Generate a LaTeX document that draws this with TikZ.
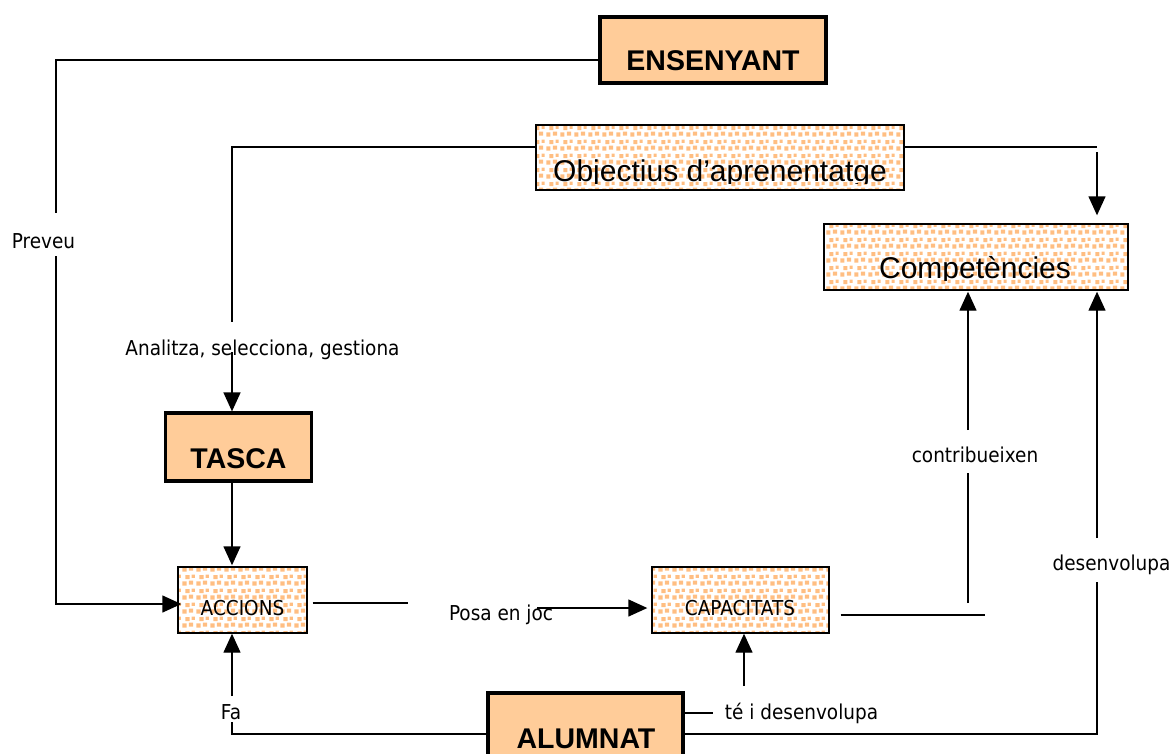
\documentclass[tikz,border=0pt]{standalone}
\usepackage{fontspec}
\setmainfont{Liberation Sans}
\newfontfamily\labfont[FakeStretch=0.9]{DejaVu Sans}
\usetikzlibrary{arrows.meta,patterns}

\definecolor{peach}{RGB}{255,204,153}
\definecolor{dotpeach}{RGB}{255,190,130}

% staggered square dots used as a soft fill
\pgfdeclarepatternformonly{peachdots}{\pgfqpoint{0pt}{0pt}}{\pgfqpoint{14pt}{14pt}}{\pgfqpoint{14pt}{14pt}}{%
  \pgfpathrectangle{\pgfqpoint{0.4pt}{0.4pt}}{\pgfqpoint{4.4pt}{4.4pt}}%
  \pgfpathrectangle{\pgfqpoint{7.4pt}{1.4pt}}{\pgfqpoint{4.4pt}{4.4pt}}%
  \pgfpathrectangle{\pgfqpoint{3.6pt}{7.2pt}}{\pgfqpoint{4.4pt}{4.4pt}}%
  \pgfpathrectangle{\pgfqpoint{10.2pt}{8.6pt}}{\pgfqpoint{3.4pt}{3.4pt}}%
  \pgfusepath{fill}}

\tikzset{
  solidbox/.style={draw, line width=3.2pt, fill=peach, inner sep=0pt},
  dotbox/.style={draw, line width=1.4pt, pattern=peachdots, pattern color=dotpeach, inner sep=0pt},
  boldtext/.style={font=\fontsize{28.5}{30}\selectfont\bfseries, anchor=base, inner sep=0pt},
  bigtext/.style={font=\fontsize{30}{32}\selectfont, anchor=base, inner sep=0pt},
  lab/.style={font=\labfont\fontsize{20.5}{22}\selectfont, anchor=base, inner sep=0pt},
  conn/.style={line width=1.4pt},
  arr/.style={conn, -{Triangle[length=19pt,width=17pt]}},
}

\begin{document}
\begin{tikzpicture}[x=1pt,y=-1pt]
\useasboundingbox (0,0) rectangle (1174,753);

% ---- boxes ----
\node[solidbox, minimum width=226pt, minimum height=66pt] (ens)   at (713,50)    {};
\node[dotbox,   minimum width=368pt, minimum height=65pt] (obj)   at (720,157.5) {};
\node[dotbox,   minimum width=304pt, minimum height=66pt] (comp)  at (976,257)   {};
\node[solidbox, minimum width=146pt, minimum height=68pt] (tasca) at (238.5,447) {};
\node[dotbox,   minimum width=129pt, minimum height=66pt] (acc)   at (242.5,600) {};
\node[dotbox,   minimum width=177pt, minimum height=66pt] (cap)   at (740.5,600) {};
\node[solidbox, minimum width=195pt, minimum height=72pt] (alum)  at (585.5,729) {};

% ---- box texts ----
\node[boldtext] (ensT)   at (713,70)    {ENSENYANT};
\begin{scope}
  \clip (537,126) rectangle (903,183);
  \node[bigtext] (objT) at (720,181) {Objectius d’aprenentatge};
\end{scope}
\begin{scope}
  \clip (825,225) rectangle (1127,280.5);
  \node[bigtext] (compT) at (975,278) {Competències};
\end{scope}
\node[boldtext] (tascaT) at (238.5,468) {TASCA};
\node[lab]      (accT)   at (242.5,615) {ACCIONS};
\node[lab]      (capT)   at (740,615)   {CAPACITATS};
\node[boldtext] (alumT)  at (586,748)   {ALUMNAT};

% ---- connector labels ----
\node[lab] (lPreveu)  at (43.5,248)  {Preveu};
\node[lab] (lAnal)    at (262.5,355) {Analitza, selecciona, gestiona};
\node[lab] (lContr)   at (975,462)   {contribueixen};
\node[lab] (lDesenv)  at (1111.5,570) {desenvolupa};
\node[lab] (lPosa)    at (501,620)   {Posa en joc};
\node[lab] (lFa)      at (231,719)   {Fa};
\node[lab] (lTe)      at (801.5,719) {té i desenvolupa};

% ---- bend and gap points ----
\coordinate (preA) at (56,60);
\coordinate (preB) at (56,213);
\coordinate (preC) at (56,256);
\coordinate (preD) at (56,604);
\coordinate (aA)   at (232,147);
\coordinate (aB)   at (232,322);
\coordinate (aC)   at (232,352);
\coordinate (oA)   at (1097,147);
\coordinate (oB)   at (1097,152);
\coordinate (accR) at (408,603);
\coordinate (pA)   at (537,608);
\coordinate (cA)   at (985,615);
\coordinate (cB)   at (968,603);
\coordinate (cC)   at (968,473);
\coordinate (cD)   at (968,430);
\coordinate (rA)   at (1097,734);
\coordinate (rB)   at (1097,582);
\coordinate (rC)   at (1097,538);
\coordinate (faA)  at (232,734);
\coordinate (faB)  at (232,722);
\coordinate (faC)  at (232,696);
\coordinate (teA)  at (713,713);
\coordinate (teB)  at (744,686);

% ---- connectors ----
% ENSENYANT -> ACCIONS (Preveu)
\draw[conn] (ens.west |- preA) -- (preA) -- (preB);
\draw[arr]  (preC) -- (preD) -- ([xshift=4pt]acc.west |- preD);
% Objectius -> TASCA (Analitza, selecciona, gestiona)
\draw[conn] (obj.west |- aA) -- (aA) -- (aB);
\draw[arr]  (aC) -- (aC |- tasca.north);
% Objectius -> Competencies
\draw[conn] (obj.east |- oA) -- (oA);
\draw[arr, shorten >=8pt] (oB) -- (oB |- comp.north);
% TASCA -> ACCIONS
\draw[arr]  (tasca.south -| aC) -- ([yshift=1pt]acc.north -| aC);
% ACCIONS -> CAPACITATS (Posa en joc)
\draw[conn] ([xshift=5pt]acc.east |- accR) -- (accR);
\draw[arr]  (pA) -- ([xshift=-4pt]cap.west |- pA);
% CAPACITATS -> Competencies (contribueixen)
\draw[conn] ([xshift=11pt]cap.east |- cA) -- (cA);
\draw[conn] (cB) -- (cC);
\draw[arr]  (cD) -- ([yshift=-1pt]cD |- comp.south);
% ALUMNAT -> Competencies (desenvolupa)
\draw[conn] (alum.east |- rA) -- (rA) -- (rB);
\draw[arr]  (rC) -- ([yshift=-1pt]rC |- comp.south);
% ALUMNAT -> ACCIONS (Fa)
\draw[conn] (alum.west |- faA) -- (faA) -- (faB);
\draw[arr]  (faC) -- (faC |- acc.south);
% ALUMNAT -> CAPACITATS (te i desenvolupa)
\draw[conn] (alum.east |- teA) -- (teA);
\draw[arr]  (teB) -- (teB |- cap.south);
\end{tikzpicture}
\end{document}
